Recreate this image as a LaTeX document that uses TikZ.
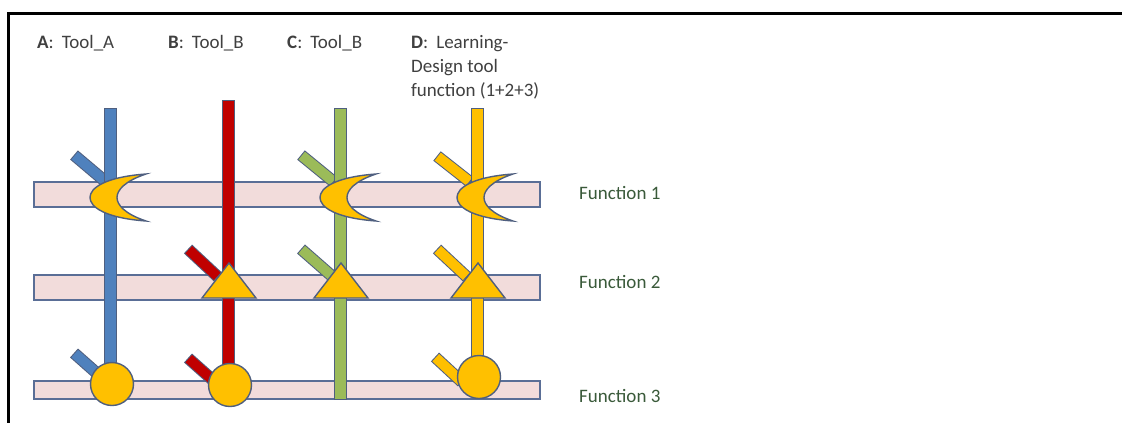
\documentclass[tikz,border=0pt]{standalone}
\usepackage{fontspec}
\setmainfont{Carlito}
\usetikzlibrary{calc}
\definecolor{blueF}{HTML}{4F81BD}
\definecolor{redF}{HTML}{C00000}
\definecolor{greenF}{HTML}{9BBB59}
\definecolor{yellowF}{HTML}{FFC000}
\definecolor{pinkF}{HTML}{F2DCDB}
\definecolor{barEdge}{HTML}{5A6E96}
\definecolor{shEdge}{HTML}{4F5F7F}
\definecolor{lblC}{HTML}{404040}
\definecolor{funC}{HTML}{3A5A3A}
\newcommand\mybranch[3]{%
  \draw[shEdge, line width=12pt] #2 -- #3;
  \draw[#1, line width=10pt, shorten <=1pt, shorten >=1pt] #2 -- #3;}
\begin{document}
\begin{tikzpicture}[x=1pt,y=-1pt,
  fbar/.style={fill=pinkF, draw=barEdge, line width=1.5pt},
  vbar/.style={draw=shEdge, line width=1pt},
  yshape/.style={fill=yellowF, draw=shEdge, line width=1.4pt},
  lbl/.style={anchor=base west, inner sep=0pt, text=lblC, font=\fontsize{19}{24}\selectfont},
  flbl/.style={lbl, text=funC}]
\useasboundingbox (0,0) rectangle (1122,423);
\fill[white] (0,0) rectangle (1122,423);
% frame
\draw[line width=3pt] (8,423) -- (8,13) -- (1122,13);
% function bars
\draw[fbar] (34,182) rectangle (540,207);
\draw[fbar] (34,275) rectangle (540,300);
\draw[fbar] (34,381) rectangle (540,399);
% branches
\mybranch{blueF}{(74,155)}{(106,182)}
\mybranch{blueF}{(74,353)}{(100,376)}
\mybranch{redF}{(188,249)}{(218,277)}
\mybranch{redF}{(188,358)}{(215,382)}
\mybranch{greenF}{(301,155)}{(334,182)}
\mybranch{greenF}{(301,249)}{(333,277)}
\mybranch{yellowF}{(437,156)}{(470,182)}
\mybranch{yellowF}{(437,249)}{(467,277)}
\mybranch{yellowF}{(435,357)}{(462,382)}
% verticals
\draw[vbar, fill=blueF] (104,108) rectangle (116,384);
\draw[vbar, fill=redF] (222,100) rectangle (234,385);
\draw[vbar, fill=greenF] (334,108) rectangle (346,399);
\draw[vbar, fill=yellowF] (471,108) rectangle (483,377);
% crescents (function 1)
\foreach \cx in {110,340,477}{
  \draw[yshape] (\cx+36,174) .. controls (\cx-5,177) and (\cx-20,188) .. (\cx-20,197.5)
     .. controls (\cx-20,207) and (\cx-5,218) .. (\cx+36,221)
     .. controls (\cx+15,214) and (\cx+7,205) .. (\cx+7,197.5)
     .. controls (\cx+7,190) and (\cx+15,181) .. cycle;
}
% triangles (function 2)
\foreach \cx in {228,340,477}{
  \draw[yshape, line join=miter] (\cx+1,263) -- (\cx+28,298) -- (\cx-26,298) -- cycle;
}
% circles (function 3)
\draw[yshape] (112,384) circle (21.5);
\draw[yshape] (230,385) circle (21.5);
\draw[yshape] (479,377) circle (21.5);
% labels
\node[lbl] (la) at (37,48) {\textbf{A}:\hspace{8pt}Tool\_A};
\node[lbl] (lb) at (168,48) {\textbf{B}:\hspace{8pt}Tool\_B};
\node[lbl] (lc) at (287,48) {\textbf{C}:\hspace{8pt}Tool\_B};
\node[lbl] (ld1) at (411,48) {\textbf{D}:\hspace{8pt}Learning-};
\node[lbl] (ld2) at (411,72) {Design tool};
\node[lbl] (ld3) at (411,96) {function (1+2+3)};
\node[flbl] (f1) at (579,199) {Function 1};
\node[flbl] (f2) at (579,288) {Function 2};
\node[flbl] (f3) at (579,402) {Function 3};
\end{tikzpicture}
\end{document}
